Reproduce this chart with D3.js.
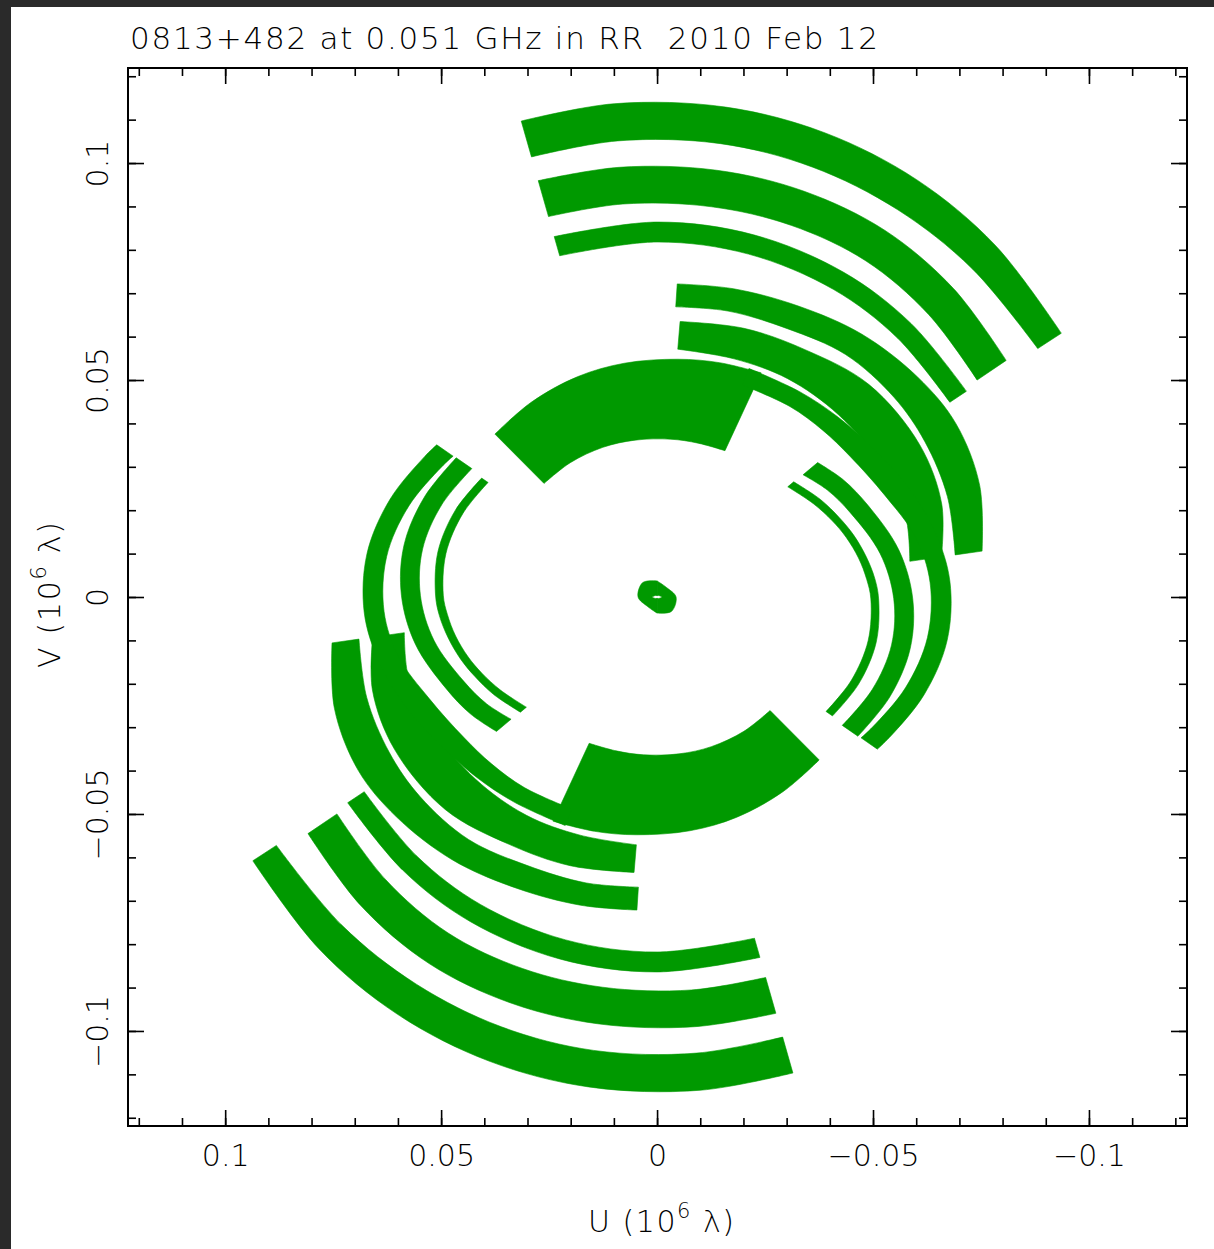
<!DOCTYPE html>
<html>
<head>
<meta charset="utf-8">
<script src="https://cdn.jsdelivr.net/npm/d3@7"></script>
<style>
  body { margin: 0; background: #2a2a2a; overflow: hidden; }
  text { font-family: "DejaVu Sans", sans-serif; font-weight: 200; }
</style>
</head>
<body>
<svg id="chart" width="1214" height="1249"></svg>
<script>
// Plot title and axis tick labels
const title = "0813+482 at 0.051 GHz in RR  2010 Feb 12";
const uTicks = [0.1, 0.05, 0, -0.05, -0.1];
const vTicks = [0.1, 0.05, 0, -0.05, -0.1];

// uv tracks, one half of the coverage (the conjugate half is added below).
// Each sample: [position angle on the plot in degrees, clockwise from +V,
//               inner radius, outer radius] with radii in 10^6 lambda.
const trackOuter1 = [[-16, .1055, .1141], [-5, .1055, .1141], [8, .1055, .1140], [20, .1054, .1138],
                     [32, .1052, .1134], [44, .1051, .1127], [57, .1051, .1116]];
const trackOuter2 = [[-16, .0912, .0998], [-5, .0909, .0994], [8, .0908, .0993], [20, .0911, .0995],
                     [32, .0913, .0996], [44, .0905, .0988], [56, .0894, .0975]];
const trackOuter3 = [[-16, .0818, .0864], [0, .0818, .0864], [15, .0818, .0864], [30, .0818, .0864],
                     [43, .0816, .0862], [56.5, .0813, .0859]];
const trackMid1 = [[3.7, .0670, .0723], [14, .0679, .0732], [26, .0688, .0746], [38, .0709, .0769],
                   [50, .0716, .0788], [60, .0716, .0799], [71, .0711, .0790], [82, .0697, .0760]];
const trackMid2 = [[4.8, .0573, .0637], [18, .0577, .0651], [31, .0587, .0665], [45, .0594, .0693],
                   [60, .0603, .0702], [72, .0605, .0693], [82, .0591, .0665]];
const trackCore = [[-45, .0370, .0531], [-33, .0369, .0535], [-20, .0367, .0540], [-8, .0365, .0544],
                   [5, .0365, .0550], [15, .0367, .0559], [25, .0372, .0570]];
const trackRing3 = [[22, .0527, .0568], [35, .0536, .0577], [45, .0543, .0589], [54, .0552, .0603],
                    [66, .0577, .0633], [77, .0614, .0661], [87, .0633, .0679], [98.5, .0633, .0679],
                    [110, .0612, .0658], [121, .0582, .0628], [124.5, .0573, .0619]];
const trackRing2 = [[50.2, .0440, .0484], [58, .0465, .0509], [66.6, .0488, .0532], [79, .0526, .0570],
                    [90.4, .0548, .0592], [101.5, .0554, .0598], [113.1, .0542, .0586], [124.6, .0521, .0565]];
const trackRing1 = [[50, .0395, .0413], [59.3, .0421, .0440], [66.6, .0442, .0460], [72.6, .0459, .0477],
                    [79.1, .0475, .0493], [85.2, .0487, .0506], [90.5, .0495, .0513], [101.6, .0499, .0518],
                    [113.2, .0489, .0508], [124, .0472, .0490]];
const trackShort = [[0, .0003, .0037], [45, .0005, .0031], [90, .0011, .0044], [135, .0005, .0047],
                    [180, .0003, .0037]];

const tracks = [trackOuter1, trackOuter2, trackOuter3, trackMid1, trackMid2, trackCore,
                trackRing3, trackRing2, trackRing1, trackShort];

const green = "#009900";
const svg = d3.select("#chart");

// dark screen border around the plot page
svg.append("rect").attr("width", 1214).attr("height", 1249).attr("fill", "#2a2a2a");
svg.append("rect").attr("x", 11).attr("y", 7).attr("width", 1203).attr("height", 1242).attr("fill", "#fff");

const x = d3.scaleLinear().domain([0.1225, -0.1227]).range([128, 1187]);
const y = d3.scaleLinear().domain([-0.1219, 0.1219]).range([1126, 68]);

const rad = Math.PI / 180;
const uOf = (a, r) => -r * Math.sin(a * rad);
const vOf = (a, r) => r * Math.cos(a * rad);

const band = d3.area()
    .x0(d => x(uOf(d[0], d[1]))).y0(d => y(vOf(d[0], d[1])))
    .x1(d => x(uOf(d[0], d[2]))).y1(d => y(vOf(d[0], d[2])))
    .curve(d3.curveCatmullRom);

// every visibility also has its conjugate at (-u, -v)
const conj = t => t.map(([a, ri, ro]) => [a + 180, ri, ro]);
const allTracks = tracks.flatMap(t => [t, conj(t)]);

svg.append("g")
  .selectAll("path")
  .data(allTracks)
  .join("path")
    .attr("d", band)
    .attr("fill", green)
    .attr("stroke", green)
    .attr("stroke-width", 0.6);

// axes: ticks inside the frame on all four sides
const fmt = d3.format("~g");
const minor = d3.range(-12, 13).map(i => i / 100);

function styleAxis(g) {
  g.select(".domain").remove();
  g.selectAll(".tick line").attr("stroke", "#000").attr("stroke-width", 1.6);
  g.attr("font-family", null).attr("font-size", null);
}

svg.append("g").attr("transform", "translate(0,1126)")
  .call(d3.axisBottom(x).tickValues(minor).tickSize(-8).tickFormat("")).call(styleAxis);
svg.append("g").attr("transform", "translate(0,1126)")
  .call(d3.axisBottom(x).tickValues(uTicks).tickSize(-16).tickFormat(fmt)).call(styleAxis)
  .selectAll("text")
    .attr("y", 40).attr("dy", 0)
    .attr("font-size", 30).attr("fill", "#000");

svg.append("g").attr("transform", "translate(0,68)")
  .call(d3.axisTop(x).tickValues(minor).tickSize(-8).tickFormat("")).call(styleAxis);
svg.append("g").attr("transform", "translate(0,68)")
  .call(d3.axisTop(x).tickValues(uTicks).tickSize(-16).tickFormat("")).call(styleAxis);

svg.append("g").attr("transform", "translate(128,0)")
  .call(d3.axisLeft(y).tickValues(minor).tickSize(-8).tickFormat("")).call(styleAxis);
svg.append("g").attr("transform", "translate(128,0)")
  .call(d3.axisLeft(y).tickValues(vTicks).tickSize(-16).tickFormat(fmt)).call(styleAxis)
  .selectAll("text")
    .attr("x", 0).attr("dy", 0)
    .attr("text-anchor", "middle")
    .attr("transform", "translate(-20,0) rotate(-90)")
    .attr("font-size", 30).attr("fill", "#000");

svg.append("g").attr("transform", "translate(1187,0)")
  .call(d3.axisRight(y).tickValues(minor).tickSize(-8).tickFormat("")).call(styleAxis);
svg.append("g").attr("transform", "translate(1187,0)")
  .call(d3.axisRight(y).tickValues(vTicks).tickSize(-16).tickFormat("")).call(styleAxis);

// frame
svg.append("rect")
    .attr("x", 128).attr("y", 68).attr("width", 1187 - 128).attr("height", 1126 - 68)
    .attr("fill", "none").attr("stroke", "#000").attr("stroke-width", 2);

// title
svg.append("text")
    .attr("x", 130).attr("y", 49)
    .attr("font-size", 31)
    .attr("textLength", 748).attr("lengthAdjust", "spacing")
    .style("white-space", "pre")
    .text(title);

// axis titles
const xt = svg.append("text")
    .attr("x", 661).attr("y", 1232)
    .attr("text-anchor", "middle").attr("font-size", 30)
    .attr("textLength", 146).attr("lengthAdjust", "spacing");
xt.append("tspan").text("U (10");
xt.append("tspan").attr("dy", -14).attr("font-size", 21).text("6");
xt.append("tspan").attr("dy", 14).text(" λ)");

const yt = svg.append("text")
    .attr("transform", "translate(60,595) rotate(-90)")
    .attr("text-anchor", "middle").attr("font-size", 30)
    .attr("textLength", 146).attr("lengthAdjust", "spacing");
yt.append("tspan").text("V (10");
yt.append("tspan").attr("dy", -14).attr("font-size", 21).text("6");
yt.append("tspan").attr("dy", 14).text(" λ)");
</script>
</body>
</html>
